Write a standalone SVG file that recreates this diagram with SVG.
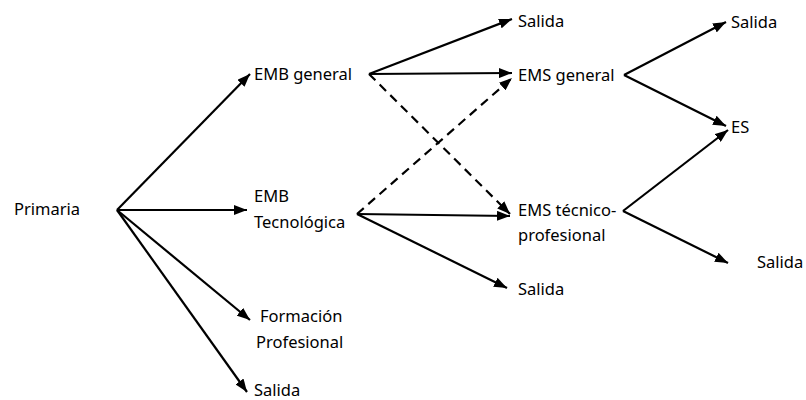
<svg xmlns="http://www.w3.org/2000/svg" width="806" height="400" viewBox="0 0 806 400">
<defs>
<marker id="ah" viewBox="0 0 13 10" refX="13" refY="5" markerWidth="13" markerHeight="10" markerUnits="userSpaceOnUse" orient="auto">
<path d="M0,0 L13,5 L0,10 Z" fill="#000"/>
</marker>
</defs>
<style>
text{font-family:"Noto Sans","Open Sans",sans-serif;font-size:16.5px;fill:#000}
.c{stroke:#000;stroke-width:2.2;fill:none;marker-end:url(#ah)}
.d{stroke-dasharray:9 6}
</style>
<rect width="806" height="400" fill="#fff"/>
<g id="connectors">
<line class="c" x1="117" y1="210" x2="250" y2="74"/>
<line class="c" x1="117" y1="210" x2="247" y2="210"/>
<line class="c" x1="117" y1="210" x2="250" y2="320"/>
<line class="c" x1="117" y1="210" x2="247" y2="392"/>
<line class="c" x1="369" y1="74" x2="512" y2="19"/>
<line class="c" x1="369" y1="74" x2="512" y2="73"/>
<line class="c d" x1="369" y1="74" x2="510" y2="214"/>
<line class="c d" x1="357" y1="214" x2="512" y2="78"/>
<line class="c" x1="357" y1="214" x2="510" y2="216"/>
<line class="c" x1="357" y1="214" x2="507" y2="288"/>
<line class="c" x1="624" y1="75" x2="726" y2="22"/>
<line class="c" x1="624" y1="75" x2="726" y2="126"/>
<line class="c" x1="623" y1="211" x2="728" y2="130"/>
<line class="c" x1="623" y1="211" x2="728" y2="263"/>
</g>
<g id="primaria"><text x="14" y="215">Primaria</text></g>
<g id="emb-general"><text x="254" y="80">EMB general</text></g>
<g id="emb-tecnologica"><text x="254" y="202">EMB</text><text x="254" y="228">Tecnológica</text></g>
<g id="formacion-profesional"><text x="260" y="322">Formación</text><text x="256" y="348">Profesional</text></g>
<g id="salida-1"><text x="254" y="396">Salida</text></g>
<g id="salida-2"><text x="518" y="27">Salida</text></g>
<g id="ems-general"><text x="518" y="81">EMS general</text></g>
<g id="ems-tecnico"><text x="518" y="216">EMS técnico-</text><text x="518" y="241">profesional</text></g>
<g id="salida-3"><text x="518" y="295">Salida</text></g>
<g id="salida-4"><text x="731" y="28">Salida</text></g>
<g id="es"><text x="731" y="133">ES</text></g>
<g id="salida-5"><text x="757" y="268">Salida</text></g>
</svg>
